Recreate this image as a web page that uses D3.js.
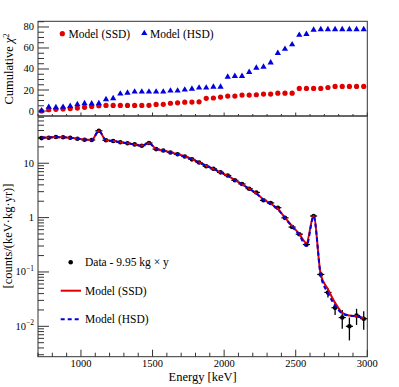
<!DOCTYPE html>
<html>
<head>
<meta charset="utf-8">
<title>Cumulative chi2 and spectrum</title>
<script src="https://d3js.org/d3.v7.min.js"></script>
<style>
  body { margin: 0; background: #fff; }
</style>
</head>
<body>
<div id="chart"></div>
<script>
// bin centres [keV]
var energy = [725, 775, 825, 875, 925, 975, 1025, 1075, 1125, 1175, 1225, 1275, 1325, 1375, 1425, 1475,
  1525, 1575, 1625, 1675, 1725, 1775, 1825, 1875, 1925, 1975, 2025, 2075, 2125, 2175, 2225, 2275,
  2325, 2375, 2425, 2475, 2525, 2575, 2625, 2675, 2725, 2775, 2825, 2875, 2925, 2975];

// cumulative chi2 (top panel)
var chi2SSD = [0, 1.3, 1.6, 2, 2.3, 2.8, 3.5, 4.3, 5, 5.3, 5.3, 5.3, 5.3, 5.3, 5.3, 5.4,
  6.3, 6.4, 7.4, 7.8, 8.4, 8.5, 8.8, 12.1, 12.4, 13.3, 14.2, 14.2, 15.2, 15.2, 15.5, 16.1,
  16.1, 17, 17, 17, 21.5, 21.5, 21.5, 21.5, 22.4, 23.4, 23.4, 23.4, 23.4, 23.4];
var chi2HSD = [0.3, 3.8, 3.5, 3.8, 4.7, 6.3, 7.3, 7.0, 7.3, 11.1, 12, 16.4, 17.3, 18.3, 18.3, 18.3,
  18.3, 18.3, 19.3, 19.3, 20.2, 21.1, 22.1, 22.1, 23, 23, 32.5, 33.2, 33.2, 37, 41, 42,
  46, 55, 59, 63.3, 72.3, 73.2, 77.2, 77.7, 77.7, 77.7, 77.7, 77.7, 77.7, 77.7];

// spectrum [counts/(keV kg yr)] (bottom panel)
var dataVal = [29, 29.5, 30.4, 30, 29.5, 28.3, 27, 26.8, 39.5, 26.4, 25.7, 24.3, 23.3, 22.2, 21, 23.6,
  18.2, 17.1, 15.8, 14.6, 13.3, 11.8, 10.3, 8.8, 7.9, 6.8, 5.95, 4.85, 4.15, 3.4, 2.9, 2.08,
  1.86, 1.52, 0.99, 0.67, 0.495, 0.32, 1.07, 0.09, 0.042, 0.022, 0.0145, 0.010, 0.0158, 0.0138];
var dataErr = [0.24, 0.24, 0.25, 0.25, 0.24, 0.24, 0.23, 0.23, 0.28, 0.23, 0.23, 0.22, 0.22, 0.21, 0.2, 0.22,
  0.19, 0.19, 0.18, 0.17, 0.16, 0.15, 0.14, 0.13, 0.126, 0.117, 0.109, 0.099, 0.091, 0.083, 0.076, 0.065,
  0.061, 0.055, 0.045, 0.037, 0.032, 0.025, 0.046, 0.011, 0.008, 0.0058, 0.0055, 0.0045, 0.0052, 0.0052];
var modelSSD = [29.5, 29.8, 30.2, 30, 29.5, 28.5, 27.3, 26.8, 39, 26.5, 25.6, 24.4, 23.3, 22.2, 21.1, 23.4,
  18.3, 17.1, 15.8, 14.6, 13.3, 11.9, 10.4, 9.0, 7.9, 6.8, 5.9, 4.9, 4.1, 3.4, 2.8, 2.15,
  1.8, 1.45, 1.0, 0.7, 0.5, 0.34, 1.08, 0.089, 0.048, 0.027, 0.0178, 0.0158, 0.0153, 0.0142];
var modelHSD = [29.4, 29.8, 30.3, 30, 29.4, 28.4, 27.2, 26.7, 39.2, 26.4, 25.6, 24.3, 23.3, 22.1, 21.0, 23.5,
  18.2, 17.1, 15.8, 14.6, 13.3, 11.8, 10.3, 8.9, 7.9, 6.8, 5.9, 4.85, 4.1, 3.38, 2.78, 2.12,
  1.78, 1.42, 0.98, 0.68, 0.48, 0.30, 1.06, 0.086, 0.041, 0.024, 0.0172, 0.0157, 0.0153, 0.0141];

var xMajor = [1000, 1500, 2000, 2500, 3000];
var chiMajor = [0, 20, 40, 60, 80];
var logMajor = [0.01, 0.1, 1, 10];
var logLabels = [["10", "\u22122"], ["10", "\u22121"], ["1", ""], ["10", ""]];

var W = 399, H = 387;
var L = 38, R = 367.3, T = 21.3, M = 116, B = 356.7;
var axisCol = "#333";
var red = "#e00000", blue = "#0000e0";

var svg = d3.select("#chart").append("svg").attr("width", W).attr("height", H);

// every label goes through here so the serif face is set on the element itself
function label(sel) { return sel.append("text").attr("font-family", "Times"); }

var x = d3.scaleLinear().domain([700, 3000]).range([L, R]);
var yTop = d3.scaleLinear().domain([-4.74, 85.4]).range([M, T]);
var yBot = d3.scaleLog().domain([Math.pow(10, -2.559), Math.pow(10, 1.869)]).range([B, M]);

var xMinor = d3.range(700, 3001, 100).filter(function (v) { return xMajor.indexOf(v) < 0; });
var chiMinor = d3.range(0, 86, 5).filter(function (v) { return chiMajor.indexOf(v) < 0; });
var logMinor = [];
[-3, -2, -1, 0, 1].forEach(function (e) {
  for (var k = 2; k <= 9; k++) {
    var v = k * Math.pow(10, e);
    if (v > yBot.domain()[0] && v < yBot.domain()[1]) logMinor.push(v);
  }
});

// ---------- frames ----------
svg.append("rect").attr("x", L).attr("y", T).attr("width", R - L).attr("height", B - T)
  .attr("fill", "none").attr("stroke", axisCol).attr("stroke-width", 1);
svg.append("line").attr("x1", L).attr("x2", R).attr("y1", M).attr("y2", M)
  .attr("stroke", axisCol).attr("stroke-width", 1.6);

function hTick(y, len) {
  svg.append("line").attr("x1", L).attr("x2", L + len).attr("y1", y).attr("y2", y)
    .attr("stroke", axisCol).attr("stroke-width", 1);
}
function vTick(px, y0, len) {
  svg.append("line").attr("x1", px).attr("x2", px).attr("y1", y0).attr("y2", y0 - len)
    .attr("stroke", axisCol).attr("stroke-width", 1);
}

// top panel axes
chiMajor.forEach(function (v) {
  hTick(yTop(v), 11);
  label(svg).attr("x", 34).attr("y", yTop(v) + 3.5).attr("text-anchor", "end")
    .attr("font-size", 10.5).text(v);
});
chiMinor.forEach(function (v) { hTick(yTop(v), 6); });
xMajor.forEach(function (v) { vTick(x(v), M, 3.5); });
xMinor.forEach(function (v) { vTick(x(v), M, 2); });

// bottom panel axes
logMajor.forEach(function (v, i) {
  hTick(yBot(v), 11);
  var t = label(svg).attr("x", 34).attr("y", yBot(v) + 3.5).attr("text-anchor", "end")
    .attr("font-size", 10.5);
  t.append("tspan").text(logLabels[i][0]);
  if (logLabels[i][1]) t.append("tspan").attr("dy", -4.5).attr("font-size", 7.5).text(logLabels[i][1]);
});
logMinor.forEach(function (v) { hTick(yBot(v), 6); });
xMajor.forEach(function (v) {
  vTick(x(v), B, 7);
  label(svg).attr("x", x(v)).attr("y", 366.5).attr("text-anchor", "middle")
    .attr("font-size", 10.5).text(v);
});
xMinor.forEach(function (v) { vTick(x(v), B, 4); });

// axis titles
label(svg).attr("x", (L + R) / 2).attr("y", 381).attr("text-anchor", "middle")
  .attr("font-size", 12.5).text("Energy [keV]");
var yt1 = label(svg).attr("transform", "translate(13,69) rotate(-90)")
  .attr("text-anchor", "middle").attr("font-size", 12.5);
yt1.append("tspan").text("Cumulative ");
yt1.append("tspan").attr("font-style", "italic").text("\u03c7");
yt1.append("tspan").attr("dy", -4.5).attr("font-size", 8.5).text("2");
label(svg).attr("transform", "translate(12,236) rotate(-90)")
  .attr("text-anchor", "middle").attr("font-size", 12.5).text("[counts/(keV\u00b7kg\u00b7yr)]");

// ---------- top panel markers ----------
var tri = d3.symbol().type(d3.symbolTriangle).size(17);
svg.append("g").selectAll("circle").data(energy).enter().append("circle")
  .attr("cx", function (d) { return x(d); })
  .attr("cy", function (d, i) { return yTop(chi2SSD[i]); })
  .attr("r", 2.6).attr("fill", red);
svg.append("g").selectAll("path").data(energy).enter().append("path")
  .attr("d", tri)
  .attr("transform", function (d, i) { return "translate(" + x(d) + "," + yTop(chi2HSD[i]) + ")"; })
  .attr("fill", blue);

// top legend
svg.append("circle").attr("cx", 62.3).attr("cy", 33.7).attr("r", 2.6).attr("fill", red);
label(svg).attr("x", 68.5).attr("y", 37.7).attr("font-size", 11.5).text("Model (SSD)");
svg.append("path").attr("d", tri).attr("transform", "translate(144.3,33.3)").attr("fill", blue);
label(svg).attr("x", 150).attr("y", 37.7).attr("font-size", 11.5).text("Model (HSD)");

// ---------- bottom panel ----------
var gD = svg.append("g");
energy.forEach(function (e, i) {
  var v = dataVal[i], s = dataErr[i];
  gD.append("line").attr("x1", x(e - 25)).attr("x2", x(e + 25))
    .attr("y1", yBot(v)).attr("y2", yBot(v)).attr("stroke", "#000").attr("stroke-width", 1.2);
  gD.append("line").attr("x1", x(e)).attr("x2", x(e))
    .attr("y1", yBot(v + s)).attr("y2", yBot(Math.max(v - s, 1e-4))).attr("stroke", "#000").attr("stroke-width", 1.3);
  gD.append("circle").attr("cx", x(e)).attr("cy", yBot(v)).attr("r", 2.3).attr("fill", "#000");
});

var lineSSD = d3.line().x(function (d) { return x(d); })
  .y(function (d, i) { return yBot(modelSSD[i]); }).curve(d3.curveMonotoneX);
var lineHSD = d3.line().x(function (d) { return x(d); })
  .y(function (d, i) { return yBot(modelHSD[i]); }).curve(d3.curveMonotoneX);

svg.append("path").attr("d", lineSSD(energy)).attr("fill", "none")
  .attr("stroke", red).attr("stroke-width", 2);
svg.append("path").attr("d", lineHSD(energy)).attr("fill", "none")
  .attr("stroke", blue).attr("stroke-width", 2).attr("stroke-dasharray", "4,3");

// bottom legend
svg.append("circle").attr("cx", 70.7).attr("cy", 262.3).attr("r", 2.3).attr("fill", "#000");
label(svg).attr("x", 85).attr("y", 266.3).attr("font-size", 11.5).text("Data - 9.95 kg \u00d7 y");
svg.append("line").attr("x1", 60.7).attr("x2", 81).attr("y1", 290.7).attr("y2", 290.7)
  .attr("stroke", red).attr("stroke-width", 2);
label(svg).attr("x", 85).attr("y", 294.7).attr("font-size", 11.5).text("Model (SSD)");
svg.append("line").attr("x1", 60.7).attr("x2", 81).attr("y1", 319.3).attr("y2", 319.3)
  .attr("stroke", blue).attr("stroke-width", 2).attr("stroke-dasharray", "4,3");
label(svg).attr("x", 85).attr("y", 323.3).attr("font-size", 11.5).text("Model (HSD)");
</script>
</body>
</html>
